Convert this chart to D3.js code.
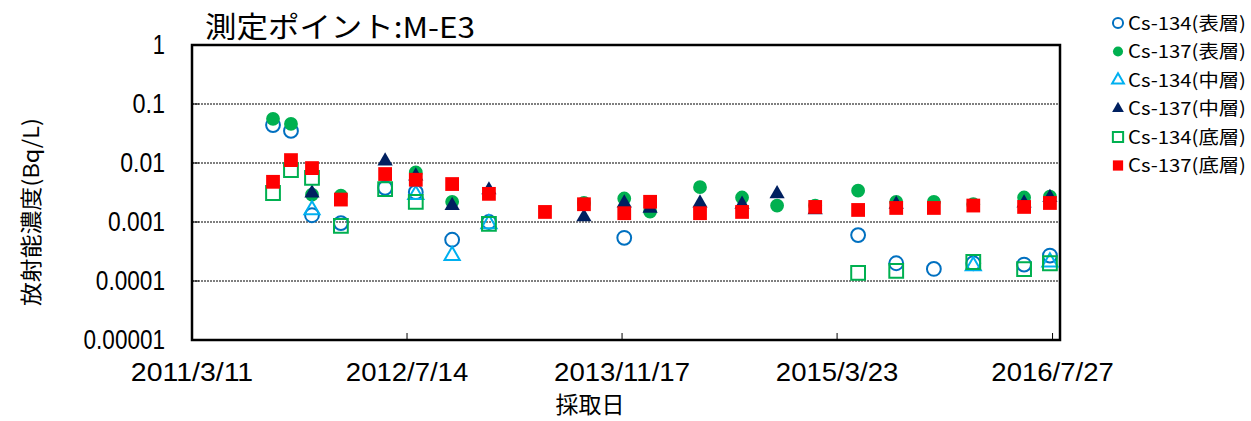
<!DOCTYPE html>
<html>
<head>
<meta charset="utf-8">
<script src="https://cdn.jsdelivr.net/npm/d3@7"></script>
<style>
  body { margin: 0; background: #fff; }
  text { font-family: "Liberation Sans", "Noto Sans CJK JP", sans-serif; fill: #000; }
  .jp { font-family: "Noto Sans CJK JP", sans-serif; }
</style>
</head>
<body>
<div id="chart"></div>
<script>
const dates = ["2011-09-12","2011-10-23","2011-12-10","2012-02-14","2012-05-25","2012-08-03",
               "2012-10-25","2013-01-17","2013-05-25","2013-08-22","2013-11-22","2014-01-20",
               "2014-05-14","2014-08-18","2014-11-06","2015-02-01","2015-05-10","2015-08-05",
               "2015-10-30","2016-01-28","2016-05-23","2016-07-21"]

const cs134Surface = [0.044, 0.035, 0.0013, 0.00096, 0.0038, 0.0032, 0.0005, 0.001, null, null, 0.00054, null,
                      null, null, null, null, 0.0006, 0.0002, 0.00016, 0.0002, 0.00019, 0.00027]
const cs137Surface = [0.056, 0.046, 0.0029, 0.0028, null, 0.0069, 0.0022, null, null, 0.0021, 0.0025, 0.0015,
                      0.0039, 0.0026, 0.0019, 0.0019, 0.0034, 0.0022, 0.0022, 0.002, 0.0026, 0.0027]
const cs134Middle  = [null, null, 0.0016, null, null, 0.0029, 0.00027, 0.00093, null, null, null, null,
                      null, null, null, null, null, null, null, 0.00018, null, 0.00021]
const cs137Middle  = [null, null, 0.0031, null, 0.0108, 0.006, 0.0019, 0.0035, null, 0.00122, 0.0021, 0.0017,
                      0.0021, 0.002, 0.003, 0.0016, null, 0.002, null, null, 0.0021, 0.0026]
const cs134Bottom  = [0.0031, 0.0076, 0.0056, 0.00086, 0.0036, 0.0022, null, 0.00093, null, null, null, null,
                      null, null, null, null, 0.000137, 0.000148, null, 0.00021, 0.000159, 0.0002]
const cs137Bottom  = [0.0048, 0.0112, 0.0082, 0.0024, 0.0065, 0.0052, 0.0044, 0.003, 0.00148, 0.002, 0.00141, 0.0022,
                      0.00141, 0.00148, null, 0.0018, 0.0016, 0.00173, 0.00173, 0.0019, 0.0018, 0.0021]

const xTickDates  = ["2011-03-11","2012-07-14","2013-11-17","2015-03-23","2016-07-27"]
const xTickLabels = ["2011/3/11","2012/7/14","2013/11/17","2015/3/23","2016/7/27"]
const yTicks      = [1, 0.1, 0.01, 0.001, 0.0001, 0.00001]
const yTickLabels = ["1","0.1","0.01","0.001","0.0001","0.00001"]

const series = [
    { name: "Cs-134(表層)", values: cs134Surface, shape: d3.symbolCircle,   color: "#0070C0", filled: false },
    { name: "Cs-137(表層)", values: cs137Surface, shape: d3.symbolCircle,   color: "#00B050", filled: true },
    { name: "Cs-134(中層)", values: cs134Middle,  shape: d3.symbolTriangle, color: "#00B0F0", filled: false },
    { name: "Cs-137(中層)", values: cs137Middle,  shape: d3.symbolTriangle, color: "#002060", filled: true },
    { name: "Cs-134(底層)", values: cs134Bottom,  shape: d3.symbolSquare,   color: "#00B050", filled: false },
    { name: "Cs-137(底層)", values: cs137Bottom,  shape: d3.symbolSquare,   color: "#FF0000", filled: true }
]

const width = 1251, height = 421
const plotLeft = 192, plotRight = 1060, plotTop = 45, plotBottom = 340
const parse = d3.timeParse("%Y-%m-%d")

const x = d3.scaleTime()
    .domain([parse("2011-03-11"), parse("2016-08-13")])
    .range([plotLeft, plotRight])
const y = d3.scaleLog()
    .domain([0.00001, 1])
    .range([plotBottom, plotTop])

// marker area for each shape
function symbolSize(shape, small) {
    if (shape === d3.symbolCircle) return small ? 80 : 150
    if (shape === d3.symbolSquare) return small ? 105 : 190
    return small ? 60 : 100
}

const svg = d3.select("#chart").append("svg")
    .attr("width", width)
    .attr("height", height)

// gridlines
svg.append("g")
    .selectAll("line")
    .data(yTicks.slice(1, 5))
    .enter().append("line")
    .attr("x1", plotLeft).attr("x2", plotRight)
    .attr("y1", d => y(d)).attr("y2", d => y(d))
    .attr("stroke", "#000")
    .attr("stroke-width", 1.2)
    .attr("stroke-dasharray", "2,1")

// inner ticks
svg.append("g")
    .selectAll("line")
    .data(yTicks)
    .enter().append("line")
    .attr("x1", plotLeft).attr("x2", plotLeft + 7)
    .attr("y1", d => y(d)).attr("y2", d => y(d))
    .attr("stroke", "#000")

svg.append("g")
    .selectAll("line")
    .data(xTickDates)
    .enter().append("line")
    .attr("x1", d => x(parse(d))).attr("x2", d => x(parse(d)))
    .attr("y1", plotBottom).attr("y2", plotBottom - 7)
    .attr("stroke", "#000")

// frame
svg.append("rect")
    .attr("x", plotLeft).attr("y", plotTop)
    .attr("width", plotRight - plotLeft).attr("height", plotBottom - plotTop)
    .attr("fill", "none")
    .attr("stroke", "#000")
    .attr("stroke-width", 2.5)

// tick labels
svg.append("g")
    .selectAll("text")
    .data(yTicks)
    .enter().append("text")
    .attr("x", 165)
    .attr("y", d => y(d) + 9)
    .attr("text-anchor", "end")
    .style("font-size", "27px")
    .attr("textLength", (d, i) => yTickLabels[i].length * 12.2 - (yTickLabels[i].length > 1 ? 4 : 0))
    .attr("lengthAdjust", "spacingAndGlyphs")
    .text((d, i) => yTickLabels[i])

svg.append("g")
    .selectAll("text")
    .data(xTickDates)
    .enter().append("text")
    .attr("x", d => x(parse(d)))
    .attr("y", 381)
    .attr("text-anchor", "middle")
    .style("font-size", "26px")
    .attr("textLength", (d, i) => xTickLabels[i].length * 13.6)
    .attr("lengthAdjust", "spacingAndGlyphs")
    .text((d, i) => xTickLabels[i])

// titles
svg.append("text")
    .attr("class", "jp")
    .attr("x", 205).attr("y", 38)
    .style("font-size", "29px")
    .attr("textLength", 270)
    .attr("lengthAdjust", "spacingAndGlyphs")
    .text("測定ポイント:M-E3")

svg.append("text")
    .attr("class", "jp")
    .attr("x", 590).attr("y", 413)
    .attr("text-anchor", "middle")
    .style("font-size", "23px")
    .text("採取日")

svg.append("text")
    .attr("class", "jp")
    .attr("transform", "translate(39,212) rotate(-90)")
    .attr("text-anchor", "middle")
    .style("font-size", "22px")
    .attr("textLength", 188)
    .attr("lengthAdjust", "spacingAndGlyphs")
    .text("放射能濃度(Bq/L)")

// points
series.forEach(s => {
    svg.append("g")
        .selectAll("path")
        .data(s.values.map((v, i) => ({ date: parse(dates[i]), value: v })).filter(d => d.value !== null))
        .enter().append("path")
        .attr("transform", d => `translate(${x(d.date)},${y(d.value)})`)
        .attr("d", d3.symbol().type(s.shape).size(symbolSize(s.shape, false)))
        .attr("fill", s.filled ? s.color : "none")
        .attr("stroke", s.filled ? "none" : s.color)
        .attr("stroke-width", 2)
})

// legend
const legend = svg.append("g")
    .selectAll("g")
    .data(series)
    .enter().append("g")
    .attr("transform", (d, i) => `translate(1118,${23 + i * 28.5})`)

legend.append("path")
    .attr("d", d => d3.symbol().type(d.shape).size(symbolSize(d.shape, true))())
    .attr("fill", d => d.filled ? d.color : "none")
    .attr("stroke", d => d.filled ? "none" : d.color)
    .attr("stroke-width", 2)

legend.append("text")
    .attr("class", "jp")
    .attr("x", 10).attr("y", 6.5)
    .style("font-size", "18px")
    .attr("textLength", 118)
    .attr("lengthAdjust", "spacingAndGlyphs")
    .text(d => d.name)
</script>
</body>
</html>
